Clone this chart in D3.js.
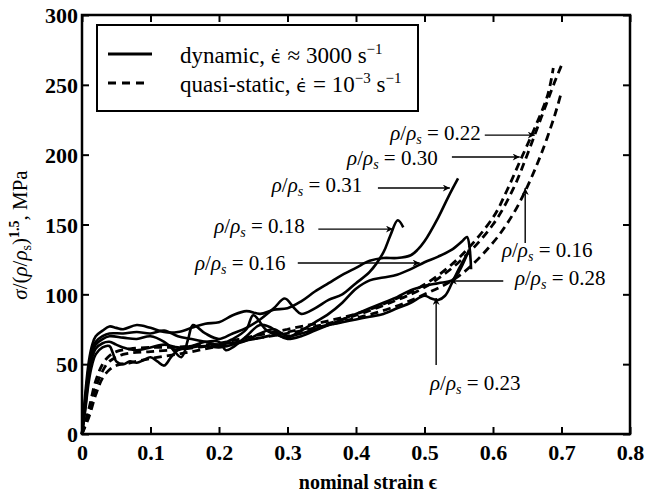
<!DOCTYPE html>
<html>
<head>
<meta charset="utf-8">
<script src="https://cdn.jsdelivr.net/npm/d3@7"></script>
<style>
	body { margin: 0; background: #fff; }
</style>
</head>
<body>
<div id="chart"></div>
<script>
// strain ticks and stress ticks
const strainTicks = [0, 0.1, 0.2, 0.3, 0.4, 0.5, 0.6, 0.7, 0.8];
const strainLabels = ["0", "0.1", "0.2", "0.3", "0.4", "0.5", "0.6", "0.7", "0.8"];
const stressTicks = [0, 50, 100, 150, 200, 250, 300];

// dynamic tests (solid), [strain, stress]
const dyn031 = [[0,0],[0.005,30],[0.01,52],[0.015,64],[0.02,70],[0.03,74],[0.04,77],[0.05,76],[0.06,75],[0.08,78],[0.1,76],[0.12,73],[0.14,73],[0.16,76],[0.18,79],[0.2,80],[0.22,85],[0.24,88],[0.26,86],[0.28,89],[0.3,90],[0.32,95],[0.34,102],[0.36,108],[0.38,114],[0.4,119],[0.42,124],[0.44,126],[0.46,126],[0.48,128],[0.49,132],[0.5,138],[0.52,155],[0.535,170],[0.549,183]];
const dyn018 = [[0,0],[0.005,24],[0.01,46],[0.015,58],[0.02,64],[0.03,68],[0.04,70],[0.06,69],[0.08,68],[0.1,70],[0.12,66],[0.13,62],[0.145,55],[0.155,68],[0.162,78],[0.18,72],[0.2,68],[0.22,72],[0.24,76],[0.26,82],[0.28,90],[0.296,97],[0.31,90],[0.32,86],[0.34,90],[0.36,96],[0.38,100],[0.4,108],[0.42,116],[0.44,130],[0.45,142],[0.461,153],[0.469,148]];
const dyn016 = [[0,0],[0.005,26],[0.01,48],[0.015,60],[0.02,66],[0.03,70],[0.04,72],[0.06,72],[0.08,73],[0.1,72],[0.12,74],[0.14,70],[0.16,68],[0.18,66],[0.2,64],[0.22,68],[0.24,75],[0.25,85],[0.27,74],[0.29,70],[0.3,69],[0.32,74],[0.34,80],[0.36,86],[0.38,94],[0.4,104],[0.42,110],[0.44,112],[0.46,114],[0.48,118],[0.5,123],[0.52,127],[0.54,132],[0.555,138],[0.562,141],[0.568,118]];
const dyn028 = [[0,0],[0.005,20],[0.01,42],[0.015,55],[0.02,61],[0.03,65],[0.04,66],[0.05,64],[0.06,62],[0.08,60],[0.1,62],[0.12,64],[0.14,62],[0.16,63],[0.18,66],[0.2,66],[0.21,60],[0.22,62],[0.24,70],[0.26,78],[0.28,75],[0.29,70],[0.3,68],[0.32,70],[0.34,74],[0.36,78],[0.38,82],[0.4,86],[0.42,90],[0.44,94],[0.46,98],[0.48,103],[0.5,106],[0.52,108],[0.54,110],[0.55,116],[0.56,126],[0.565,132]];
const dyn023 = [[0,0],[0.005,18],[0.01,38],[0.015,50],[0.02,57],[0.03,62],[0.04,63],[0.045,58],[0.05,52],[0.06,50],[0.07,52],[0.08,51],[0.09,53],[0.1,55],[0.11,52],[0.12,49],[0.13,55],[0.14,60],[0.16,62],[0.18,63],[0.2,62],[0.22,64],[0.24,67],[0.26,72],[0.28,75],[0.3,70],[0.32,72],[0.34,75],[0.36,78],[0.38,80],[0.4,82],[0.42,84],[0.44,86],[0.46,90],[0.48,94],[0.5,99],[0.51,97],[0.52,96],[0.53,99],[0.54,108],[0.55,118],[0.56,127]];

// quasi-static tests (dashed)
const qs030 = [[0,0],[0.01,18],[0.02,38],[0.03,50],[0.04,56],[0.05,59],[0.07,61],[0.1,62],[0.13,62],[0.16,63],[0.2,65],[0.25,70],[0.3,75],[0.35,80],[0.4,86],[0.45,95],[0.5,107],[0.55,126],[0.6,155],[0.62,174],[0.64,196],[0.66,218],[0.68,243],[0.688,262]];
const qs022 = [[0,0],[0.01,15],[0.02,33],[0.03,45],[0.04,52],[0.06,57],[0.1,59],[0.15,61],[0.2,64],[0.25,68],[0.3,73],[0.35,78],[0.4,85],[0.45,94],[0.5,105],[0.55,123],[0.6,150],[0.63,176],[0.65,200],[0.67,226],[0.69,252],[0.7,264]];
const qs016 = [[0,0],[0.01,12],[0.02,28],[0.03,40],[0.04,46],[0.05,49],[0.07,51],[0.1,54],[0.15,58],[0.2,63],[0.25,68],[0.3,72],[0.35,77],[0.4,83],[0.45,90],[0.5,100],[0.55,113],[0.6,137],[0.63,158],[0.65,177],[0.67,200],[0.69,228],[0.7,245]];

const dynamicSeries = [dyn031, dyn018, dyn016, dyn028, dyn023];
const quasiSeries = [qs030, qs022, qs016];

// labels with text anchor and arrow ends, in data units
const annLabels = ["0.22", "0.30", "0.31", "0.18", "0.16", "0.16", "0.28", "0.23"];
const annText = [[0.45,210.5],[0.387,192.6],[0.277,173.2],[0.193,143.9],[0.165,117.4],[0.613,126.7],[0.632,106.7],[0.508,31.5]];
const annFrom = [[0.588,214],[0.54,198.3],[0.432,176.1],[0.345,146.7],[0.315,122.4],[0.647,136.7],[0.615,109.5],[0.517,49.4]];
const annTo = [[0.661,214],[0.639,198.3],[0.537,176.1],[0.454,146.7],[0.493,122.4],[0.647,176.1],[0.537,109.5],[0.517,97.4]];

const serif = "'Liberation Serif'";
const dotFont = "'DejaVu Sans'";
const width = 646;
const height = 494;
const margin = { top: 15, right: 16, bottom: 60, left: 82 };

const x = d3.scaleLinear().domain([0, 0.8]).range([margin.left, width - margin.right]);
const y = d3.scaleLinear().domain([0, 300]).range([height - margin.bottom, margin.top]);

const svg = d3.select("#chart").append("svg")
	.attr("width", width)
	.attr("height", height)
	.style("display", "block");

svg.append("rect").attr("width", width).attr("height", height).attr("fill", "#fff");

const tickLen = 7;

svg.append("g")
	.attr("transform", `translate(0,${y(0)})`)
	.call(d3.axisBottom(x).tickValues(strainTicks).tickSizeInner(-tickLen).tickSizeOuter(0).tickPadding(10)
		.tickFormat((d, i) => strainLabels[i]));
svg.append("g")
	.attr("transform", `translate(0,${y(300)})`)
	.call(d3.axisTop(x).tickValues(strainTicks).tickSizeInner(-tickLen).tickSizeOuter(0).tickFormat(""));
const left = svg.append("g")
	.attr("transform", `translate(${x(0)},0)`)
	.call(d3.axisLeft(y).tickValues(stressTicks).tickSizeInner(-tickLen).tickSizeOuter(0).tickPadding(4));
svg.append("g")
	.attr("transform", `translate(${x(0.8)},0)`)
	.call(d3.axisRight(y).tickValues(stressTicks).tickSizeInner(-tickLen).tickSizeOuter(0).tickFormat(""));

svg.selectAll(".domain").remove();
svg.selectAll(".tick line").attr("stroke", "#000").attr("stroke-width", 2);
svg.selectAll(".tick text")
	.attr("fill", "#000")
	.style("font-family", serif)
	.style("font-size", "22px")
	.style("font-weight", "bold");
left.selectAll(".tick text").attr("dy", "0.35em");

// frame
svg.append("rect")
	.attr("x", x(0))
	.attr("y", y(300))
	.attr("width", x(0.8) - x(0))
	.attr("height", y(0) - y(300))
	.attr("fill", "none")
	.attr("stroke", "#000")
	.attr("stroke-width", 2.5);

// curves
const line = d3.line()
	.x((d) => x(d[0]))
	.y((d) => y(d[1]))
	.curve(d3.curveCatmullRom.alpha(0.5));

svg.append("g")
	.selectAll("path")
	.data(quasiSeries)
	.join("path")
	.attr("d", line)
	.attr("fill", "none")
	.attr("stroke", "#000")
	.attr("stroke-width", 2.8)
	.attr("stroke-dasharray", "8,5");

svg.append("g")
	.selectAll("path")
	.data(dynamicSeries)
	.join("path")
	.attr("d", line)
	.attr("fill", "none")
	.attr("stroke", "#000")
	.attr("stroke-width", 2.6)
	.attr("stroke-linejoin", "round");

// arrow head
svg.append("defs").append("marker")
	.attr("id", "head")
	.attr("viewBox", "0 0 10 10")
	.attr("refX", 10)
	.attr("refY", 5)
	.attr("markerWidth", 11)
	.attr("markerHeight", 7)
	.attr("markerUnits", "userSpaceOnUse")
	.attr("orient", "auto")
	.append("path")
	.attr("d", "M0,0 L10,5 L0,10 L3,5 Z")
	.attr("fill", "#000");

const ann = svg.append("g");
annLabels.forEach((lab, i) => {
	ann.append("line")
		.attr("x1", x(annFrom[i][0]))
		.attr("y1", y(annFrom[i][1]))
		.attr("x2", x(annTo[i][0]))
		.attr("y2", y(annTo[i][1]))
		.attr("stroke", "#000")
		.attr("stroke-width", 1.4)
		.attr("marker-end", "url(#head)");

	const t = ann.append("text")
		.attr("x", x(annText[i][0]))
		.attr("y", y(annText[i][1]))
		.attr("fill", "#000")
		.style("font-family", serif)
		.style("font-size", "21px");
	t.append("tspan").style("font-style", "italic").text("ρ");
	t.append("tspan").text("/");
	t.append("tspan").style("font-style", "italic").text("ρ");
	t.append("tspan").style("font-style", "italic").style("font-size", "14px").attr("dy", 4).text("s");
	t.append("tspan").attr("dy", -4).text(` = ${lab}`);
});

// legend
const lg = svg.append("g");
lg.append("rect")
	.attr("x", 97).attr("y", 25)
	.attr("width", 321).attr("height", 86)
	.attr("fill", "#fff")
	.attr("stroke", "#000")
	.attr("stroke-width", 2);
lg.append("line")
	.attr("x1", 108).attr("x2", 152).attr("y1", 54).attr("y2", 54)
	.attr("stroke", "#000").attr("stroke-width", 2.8);
lg.append("line")
	.attr("x1", 108).attr("x2", 148).attr("y1", 83).attr("y2", 83)
	.attr("stroke", "#000").attr("stroke-width", 2.8)
	.attr("stroke-dasharray", "8,6");

const epsDot = (sel) => {
	sel.append("tspan").style("font-family", dotFont).style("font-size", "18px").text("ϵ̇");
};

const l1 = lg.append("text").attr("x", 180).attr("y", 63)
	.style("font-family", serif).style("font-size", "23px");
l1.append("tspan").text("dynamic, ");
epsDot(l1);
l1.append("tspan").text(" ≈ 3000 s");
l1.append("tspan").attr("dy", -9).style("font-size", "15px").text("−1");

const l2 = lg.append("text").attr("x", 180).attr("y", 92)
	.style("font-family", serif).style("font-size", "23px");
l2.append("tspan").text("quasi-static, ");
epsDot(l2);
l2.append("tspan").text(" = 10");
l2.append("tspan").attr("dy", -9).style("font-size", "15px").text("−3");
l2.append("tspan").attr("dy", 9).text(" s");
l2.append("tspan").attr("dy", -9).style("font-size", "15px").text("−1");

// axis titles
svg.append("text")
	.attr("x", 368)
	.attr("y", 489)
	.attr("text-anchor", "middle")
	.style("font-family", serif)
	.style("font-size", "20px")
	.style("font-weight", "bold")
	.text("nominal strain ϵ");

const yl = svg.append("text")
	.attr("transform", `translate(27,${235}) rotate(-90)`)
	.attr("text-anchor", "middle")
	.style("font-family", serif)
	.style("font-size", "21px");
yl.append("tspan").style("font-style", "italic").text("σ");
yl.append("tspan").text("/(");
yl.append("tspan").style("font-style", "italic").text("ρ");
yl.append("tspan").text("/");
yl.append("tspan").style("font-style", "italic").text("ρ");
yl.append("tspan").attr("dy", 4).style("font-size", "14px").text("s");
yl.append("tspan").attr("dy", -4).text(")");
yl.append("tspan").attr("dy", -8).style("font-size", "14px").style("font-weight", "bold").text("1.5");
yl.append("tspan").attr("dy", 8).text(", MPa");
</script>
</body>
</html>
